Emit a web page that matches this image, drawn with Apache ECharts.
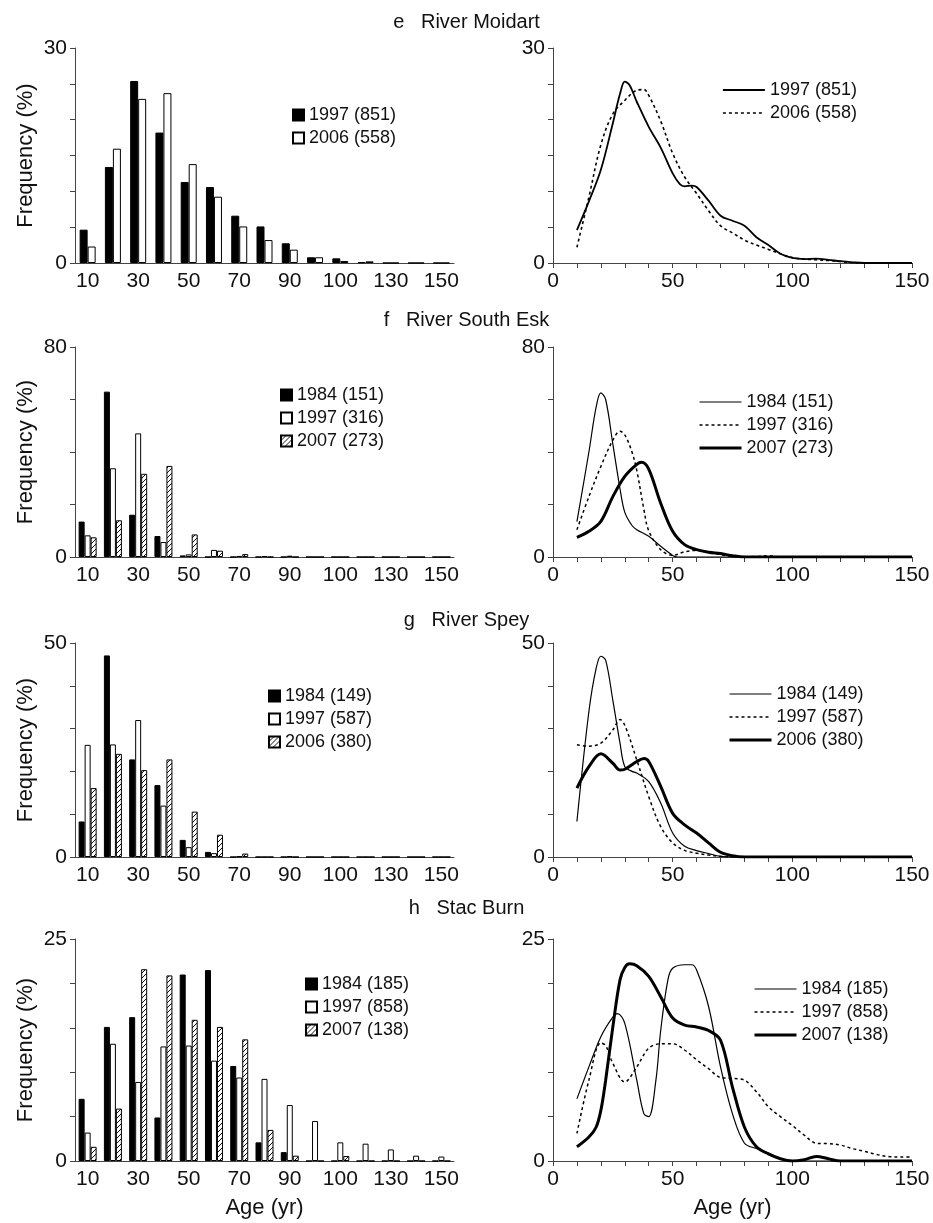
<!DOCTYPE html>
<html><head><meta charset="utf-8">
<script src="https://cdn.jsdelivr.net/npm/echarts/dist/echarts.min.js"></script>
<style>html,body{margin:0;padding:0;background:#fff}#c{width:933px;height:1223px}</style>
</head><body><div id="c"></div>
<script>
// ---------- DATA ----------
const ageBins = [10,20,30,40,50,60,70,80,90,100,110,120,130,140,150];
const binTickLabels = ['10','','30','','50','','70','','90','','100','','130','','150'];
const panelTitles = ['e   River Moidart','f   River South Esk','g   River Spey','h   Stac Burn'];
const yMax = [30, 80, 50, 25];
const yStep = [5, 20, 10, 5];

// Row e: River Moidart
const eNames = ['1997 (851)','2006 (558)'];
const eBar1997 = [4.65,13.4,25.4,18.2,11.3,10.6,6.6,5.1,2.75,0.8,0.65,0.1,0,0,0];
const eBar2006 = [2.3,15.95,22.9,23.7,13.8,9.25,5.1,3.2,1.86,0.8,0.28,0.23,0,0,0];
const eCurve1997 = [[10,4.6],[15,8.6],[20,13.0],[25,19.5],[28,23.6],[30,25.3],[32,24.8],[35,22.5],[40,19],[45,16.1],[50,12.5],[53,11],[55,10.7],[58,10.8],[60,10.6],[65,8.7],[70,6.6],[75,5.9],[80,5.2],[85,3.6],[90,2.5],[95,1.3],[100,0.7],[105,0.55],[110,0.6],[115,0.45],[120,0.25],[125,0.1],[130,0],[150,0]];
const eCurve2006 = [[10,2.2],[15,9.2],[20,16.5],[25,20.8],[30,22.7],[35,24.1],[38,24.2],[40,23.4],[45,19.8],[50,15.3],[55,12],[60,9.7],[65,7.3],[70,5.2],[75,4.2],[80,3.2],[85,2.5],[90,1.9],[95,1.3],[100,0.75],[105,0.55],[110,0.45],[115,0.35],[120,0.2],[125,0.05],[130,0],[150,0]];

// Row f: River South Esk
const fNames = ['1984 (151)','1997 (316)','2007 (273)'];
const fBar1984 = [13.5,63,16.1,8,0.6,0,0,0,0,0,0,0,0,0,0];
const fBar1997 = [8.25,33.8,47.1,5.7,1.0,2.7,0.4,0.3,0.5,0,0,0,0,0,0];
const fBar2007 = [7.5,14,31.7,34.7,8.6,2.4,1.1,0,0,0,0,0,0,0,0];
const fCurve1984 = [[10,13.5],[15,40],[18,57],[20,62.5],[22,60],[25,43],[28,26],[30,17],[33,12],[35,10.4],[40,7.9],[45,4.1],[50,0.6],[52,0],[60,0],[150,0]];
const fCurve1997 = [[10,10.4],[15,23],[20,34.5],[25,44.5],[28,47.9],[30,46.5],[33,40],[35,33],[38,18],[40,10],[45,2.8],[50,0.6],[55,2.0],[60,2.5],[65,1.8],[70,0.9],[75,0.25],[80,0],[85,0.2],[90,0.5],[95,0],[150,0]];
const fCurve2007 = [[10,7.5],[15,9.8],[20,13.6],[25,23],[30,30.7],[35,35.3],[37,36.1],[40,33.5],[45,20.5],[50,9.8],[55,4.7],[60,2.8],[65,1.8],[70,1.3],[75,0.5],[80,0],[150,0]];

// Row g: River Spey
const gNames = ['1984 (149)','1997 (587)','2006 (380)'];
const gBar1984 = [8.3,47.1,22.8,16.8,4.0,1.2,0,0,0,0,0,0,0,0,0];
const gBar1997 = [26.2,26.3,32,12,2.3,0.9,0.15,0,0.15,0,0,0,0,0,0];
const gBar2006 = [16.1,24.1,20.3,22.8,10.6,5.2,0.8,0,0,0,0,0,0,0,0];
const gCurve1984 = [[10,8.3],[15,34],[18,44],[20,46.9],[22,46],[25,36.6],[28,26.6],[30,21.1],[33,20],[35,19.6],[40,17.6],[45,12.6],[50,5.6],[55,2.5],[60,1.5],[65,0.8],[70,0.15],[75,0],[150,0]];
const gCurve1997 = [[10,26.2],[15,25.9],[20,26.6],[25,29.7],[28,32.1],[30,30.8],[35,22.7],[40,14.1],[45,7.1],[50,3.3],[55,1.55],[60,0.9],[65,0.45],[70,0.15],[75,0],[150,0]];
const gCurve2006 = [[10,16.1],[15,21.1],[20,24.1],[25,21.9],[28,20.3],[30,20.5],[35,22.3],[38,23],[40,22.3],[45,16.5],[50,10.2],[55,7.5],[60,5.6],[65,3.3],[70,1.1],[75,0.3],[80,0],[150,0]];

// Row h: Stac Burn
const hNames = ['1984 (185)','1997 (858)','2007 (138)'];
const hBar1984 = [7.0,15.1,16.2,4.9,21.0,21.5,10.7,2.1,1.0,0,0,0,0,0,0];
const hBar1997 = [3.2,13.2,8.9,12.9,13.0,11.3,9.4,9.25,6.3,4.5,2.1,1.95,1.3,0.6,0.5];
const hBar2007 = [1.6,5.9,21.6,20.9,15.9,15.1,13.7,3.5,0.6,0,0.56,0,0,0,0];
const hCurve1984 = [[10,7.0],[15,10.6],[20,14],[25,16.2],[27,16.6],[30,15.5],[35,9.1],[38,5.3],[40,5.0],[43,9.1],[45,14.7],[48,20.4],[50,21.7],[55,22.1],[58,22.1],[60,21.5],[65,17.4],[70,10.6],[75,5.3],[80,2.0],[85,1.4],[90,0.9],[95,0.26],[100,0],[150,0]];
const hCurve1997 = [[10,3.1],[15,9.1],[20,13.3],[22,13.0],[25,11],[30,8.9],[35,10.6],[40,12.7],[45,13.2],[50,13.2],[55,12.5],[60,11.4],[65,10.4],[70,9.4],[75,9.3],[80,9.1],[85,7.8],[90,6.1],[95,5.0],[100,4.0],[105,2.9],[110,2.0],[115,1.95],[120,1.8],[125,1.4],[130,1.1],[135,0.75],[140,0.5],[145,0.45],[150,0.45]];
const hCurve2007 = [[10,1.6],[15,2.7],[18,3.8],[20,5.7],[22,9.1],[25,15.1],[28,20.4],[30,21.8],[32,22.2],[35,22],[40,20.8],[45,18.5],[50,16.1],[55,15.3],[60,15.1],[65,14.7],[70,13.6],[75,8.3],[80,3.8],[85,1.6],[90,0.8],[95,0.26],[100,0],[105,0.15],[110,0.5],[115,0.26],[120,0],[150,0]];

const barNames = [eNames, fNames, gNames, hNames];
const barData = [[eBar1997,eBar2006],[fBar1984,fBar1997,fBar2007],[gBar1984,gBar1997,gBar2006],[hBar1984,hBar1997,hBar2007]];
const curveData = [[eCurve1997,eCurve2006],[fCurve1984,fCurve1997,fCurve2007],[gCurve1984,gCurve1997,gCurve2006],[hCurve1984,hCurve1997,hCurve2007]];

// ---------- LAYOUT / STYLE ----------
const FONT = 'Liberation Sans, Arial, Helvetica, sans-serif';
const rowTop = [48, 347, 643, 939];
const rowH = [215, 210, 214, 222];
const titleTop = [12, 310, 610, 898];
const leftLegend = [[292,106],[280,386],[268,687],[305,975]];
const rightLegend = [[722,81],[698,393],[728,685],[753,980]];
const AX = '#444';

function hatch(){
  const c=document.createElement('canvas'); c.width=5; c.height=5;
  const g=c.getContext('2d'); g.fillStyle='#fff'; g.fillRect(0,0,5,5);
  g.strokeStyle='#111'; g.lineWidth=1; g.beginPath();
  g.moveTo(0,5); g.lineTo(5,0); g.moveTo(-1,1); g.lineTo(1,-1); g.moveTo(4,6); g.lineTo(6,4);
  g.stroke(); return c;
}
const hatchFill = {image: hatch(), repeat: 'repeat'};
const barFills2 = ['#000', '#fff'];
const barFills3 = ['#000', '#fff', hatchFill];
const lineStyles2 = [{width:1.8,type:'solid'},{width:1.6,type:[3,3]}];
const lineStyles3 = [{width:1.2,type:'solid'},{width:1.5,type:[3,3]},{width:3,type:'solid'}];

const grids=[], xAxes=[], yAxes=[], series=[], legends=[], titles=[];
for (let r=0;r<4;r++){
  titles.push({text: panelTitles[r], left:'center', top: titleTop[r], padding:0, textStyle:{fontFamily:FONT,fontSize:20,fontWeight:'normal',color:'#111'}});
  grids.push({left:75, width:379, top:rowTop[r], height:rowH[r]});
  grids.push({left:553, width:359, top:rowTop[r], height:rowH[r]});
  const last = r===3;
  xAxes.push({type:'category', gridIndex:2*r, data: ageBins, boundaryGap:true,
    axisLine:{lineStyle:{color:AX,width:1}}, axisTick:{interval:0,length:5,lineStyle:{color:AX}},
    axisLabel:{interval:0, formatter:(v,i)=>binTickLabels[i], fontFamily:FONT, fontSize:21, color:'#111', margin:8},
    name: last?'Age (yr)':'', nameLocation:'middle', nameGap:36, nameTextStyle:{fontFamily:FONT,fontSize:22,color:'#111'}});
  xAxes.push({type:'value', gridIndex:2*r+1, min:0, max:150, interval:50,
    axisLine:{lineStyle:{color:AX,width:1}}, axisTick:{length:5,lineStyle:{color:AX}},
    minorTick:{show:true, splitNumber:5, length:5, lineStyle:{color:AX}},
    splitLine:{show:false},
    axisLabel:{fontFamily:FONT, fontSize:21, color:'#111', margin:8},
    name: last?'Age (yr)':'', nameLocation:'middle', nameGap:36, nameTextStyle:{fontFamily:FONT,fontSize:22,color:'#111'}});
  for (let s=0;s<2;s++){
    yAxes.push({type:'value', gridIndex:2*r+s, min:0, max:yMax[r], interval:yStep[r],
      axisLine:{show:true,lineStyle:{color:AX,width:1}}, axisTick:{show:true,length:5,lineStyle:{color:AX}},
      splitLine:{show:false},
      axisLabel:{fontFamily:FONT, fontSize:21, color:'#111', margin:8, formatter:(v)=>(v===0||v===yMax[r])?String(v):''},
      name: s===0?'Frequency (%)':'', nameLocation:'middle', nameGap:38, nameTextStyle:{fontFamily:FONT,fontSize:22,color:'#111'}});
  }
  const n = barNames[r].length;
  const fills = n===2?barFills2:barFills3;
  const lstyles = n===2?lineStyles2:lineStyles3;
  for (let k=0;k<n;k++){
    series.push({type:'bar', name:barNames[r][k], xAxisIndex:2*r, yAxisIndex:2*r, data:barData[r][k],
      barWidth: n===2?8:6, barGap:'0%',
      itemStyle:{color:fills[k], borderColor:'#000', borderWidth:1}});
    series.push({type:'line', name:barNames[r][k]+' ', xAxisIndex:2*r+1, yAxisIndex:2*r+1, data:curveData[r][k],
      smooth:0.35, symbol:'none', lineStyle:Object.assign({color:'#000'}, lstyles[k]), itemStyle:{color:'#000'}});
  }
  legends.push({orient:'vertical', left:leftLegend[r][0], top:leftLegend[r][1], padding:0, selectedMode:false,
    data: barNames[r], icon:'rect', itemWidth:11, itemHeight:11, itemGap:5,
    textStyle:{fontFamily:FONT, fontSize:18, color:'#111', lineHeight:18}});
  legends.push({orient:'vertical', left:rightLegend[r][0], top:rightLegend[r][1], padding:0, selectedMode:false,
    data: barNames[r].map(x=>x+' '), itemWidth:42, itemHeight:14, itemGap:5,
    itemStyle:{opacity:0}, lineStyle:{width:'inherit'},
    textStyle:{fontFamily:FONT, fontSize:18, color:'#111', lineHeight:18}});
}

const chart = echarts.init(document.getElementById('c'), null, {renderer:'canvas'});
chart.setOption({animation:false, backgroundColor:'#fff', title:titles, grid:grids, xAxis:xAxes, yAxis:yAxes, legend:legends, series:series});
</script></body></html>
